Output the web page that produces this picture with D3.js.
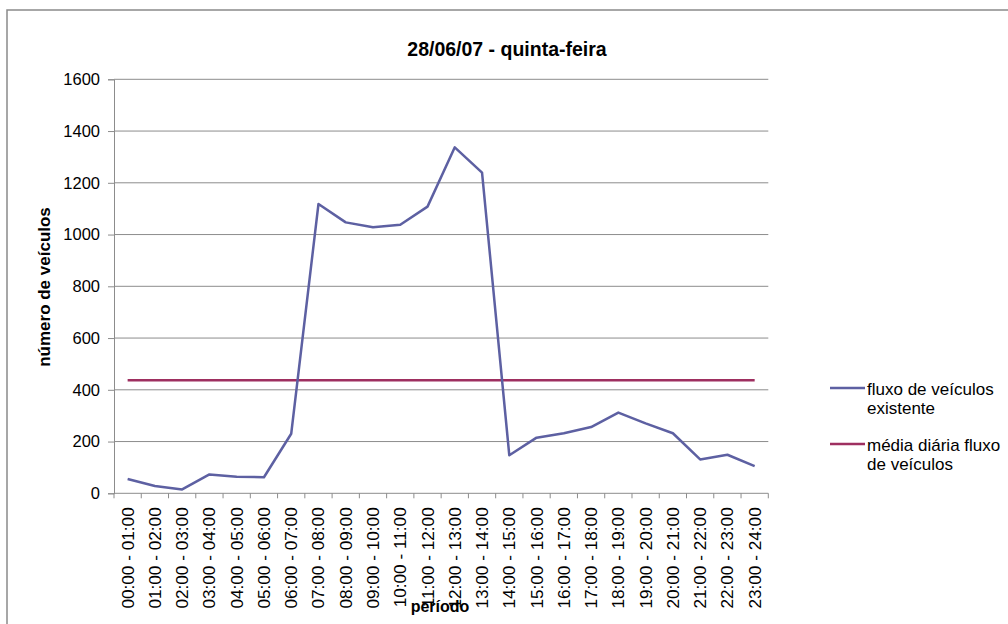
<!DOCTYPE html>
<html>
<head>
<meta charset="utf-8">
<script src="https://cdn.jsdelivr.net/npm/d3@7"></script>
<style>
  html, body { margin: 0; padding: 0; background: #fff; }
  svg { display: block; font-family: Arial, "Liberation Sans", sans-serif; }
</style>
</head>
<body>
<svg id="chart" width="1008" height="624"></svg>
<script>
// Hourly periods of the day
const periods = [
  "00:00 - 01:00", "01:00 - 02:00", "02:00 - 03:00", "03:00 - 04:00",
  "04:00 - 05:00", "05:00 - 06:00", "06:00 - 07:00", "07:00 - 08:00",
  "08:00 - 09:00", "09:00 - 10:00", "10:00 - 11:00", "11:00 - 12:00",
  "12:00 - 13:00", "13:00 - 14:00", "14:00 - 15:00", "15:00 - 16:00",
  "16:00 - 17:00", "17:00 - 18:00", "18:00 - 19:00", "19:00 - 20:00",
  "20:00 - 21:00", "21:00 - 22:00", "22:00 - 23:00", "23:00 - 24:00"
];

// Vehicle counts per hour
const fluxoExistente = [
  55, 28, 15, 73, 64, 62, 230, 1118, 1047, 1028, 1038, 1108,
  1337, 1239, 147, 215, 232, 256, 312, 270, 232, 131, 149, 105
];

// Daily mean of the flow, repeated for each hour
const mediaDiaria = [
  437, 437, 437, 437, 437, 437, 437, 437, 437, 437, 437, 437,
  437, 437, 437, 437, 437, 437, 437, 437, 437, 437, 437, 437
];

const yTicks = [0, 200, 400, 600, 800, 1000, 1200, 1400, 1600];

const titleText = "28/06/07 - quinta-feira";
const yTitle = "número de veículos";
const xTitle = "período";
const seriesNames = [
  ["fluxo de veículos", "existente"],
  ["média diária fluxo", "de veículos"]
];
const seriesColors = ["#5d60a2", "#9e2f60"];

const svg = d3.select("#chart");

// outer chart frame
svg.append("rect")
  .attr("x", 7).attr("y", 10)
  .attr("width", 1020).attr("height", 640)
  .attr("fill", "#fff")
  .attr("stroke", "#8a8a8a").attr("stroke-width", 1.5);

const plot = { left: 114, right: 768.3, top: 79.3, bottom: 493.3 };

const x = d3.scaleBand()
  .domain(periods)
  .range([plot.left, plot.right])
  .paddingInner(0).paddingOuter(0);

const y = d3.scaleLinear()
  .domain([0, 1600])
  .range([plot.bottom, plot.top]);

// horizontal gridlines
svg.append("g")
  .selectAll("line")
  .data(yTicks.filter(d => d > 0))
  .join("line")
  .attr("x1", plot.left).attr("x2", plot.right)
  .attr("y1", d => y(d)).attr("y2", d => y(d))
  .attr("stroke", "#8c8c8c").attr("stroke-width", 1);

// y axis
const yAxis = svg.append("g")
  .attr("transform", `translate(${plot.left},0)`)
  .call(d3.axisLeft(y).tickValues(yTicks).tickSize(6).tickPadding(8).tickFormat(d3.format("d")));
yAxis.select(".domain").attr("stroke", "#8c8c8c");
yAxis.selectAll(".tick line").attr("stroke", "#8c8c8c");
yAxis.selectAll(".tick text")
  .attr("font-size", 16.5)
  .attr("font-family", "Arial, 'Liberation Sans', sans-serif")
  .attr("fill", "#000");

// x axis, ticks on category boundaries
const xAxisG = svg.append("g")
  .attr("transform", `translate(0,${plot.bottom})`);
xAxisG.append("line")
  .attr("x1", plot.left).attr("x2", plot.right)
  .attr("y1", 0).attr("y2", 0)
  .attr("stroke", "#8c8c8c");
const boundaries = periods.map(p => x(p)).concat([plot.right]);
xAxisG.selectAll("line.tk")
  .data(boundaries)
  .join("line")
  .attr("class", "tk")
  .attr("x1", d => d).attr("x2", d => d)
  .attr("y1", 0).attr("y2", 5)
  .attr("stroke", "#8c8c8c");
xAxisG.selectAll("text.lbl")
  .data(periods)
  .join("text")
  .attr("class", "lbl")
  .attr("transform", d => `translate(${x(d) + x.bandwidth() / 2 + 6},14) rotate(-90)`)
  .attr("text-anchor", "end")
  .attr("font-size", 17.2)
  .attr("fill", "#000")
  .text(d => d);

// series lines
const line = d3.line()
  .x((d, i) => x(periods[i]) + x.bandwidth() / 2)
  .y(d => y(d));

svg.append("path")
  .datum(mediaDiaria)
  .attr("d", line)
  .attr("fill", "none")
  .attr("stroke", seriesColors[1])
  .attr("stroke-width", 2.5);

svg.append("path")
  .datum(fluxoExistente)
  .attr("d", line)
  .attr("fill", "none")
  .attr("stroke", seriesColors[0])
  .attr("stroke-width", 2.5)
  .attr("stroke-linejoin", "round");

// title
svg.append("text")
  .attr("x", 507).attr("y", 56)
  .attr("text-anchor", "middle")
  .attr("font-size", 19.5)
  .attr("font-weight", "bold")
  .attr("fill", "#000")
  .text(titleText);

// y axis title
svg.append("text")
  .attr("transform", "translate(50,287) rotate(-90)")
  .attr("text-anchor", "middle")
  .attr("font-size", 17)
  .attr("font-weight", "bold")
  .attr("fill", "#000")
  .text(yTitle);

// x axis title
svg.append("text")
  .attr("x", 440).attr("y", 612)
  .attr("text-anchor", "middle")
  .attr("font-size", 16)
  .attr("font-weight", "bold")
  .attr("fill", "#000")
  .text(xTitle);

// legend
const legend = svg.append("g").attr("transform", "translate(830,388)");
seriesNames.forEach((lines, i) => {
  const g = legend.append("g").attr("transform", `translate(0,${i * 56})`);
  g.append("line")
    .attr("x1", 0).attr("x2", 35)
    .attr("y1", 0).attr("y2", 0)
    .attr("stroke", seriesColors[i]).attr("stroke-width", 2.5);
  lines.forEach((t, j) => {
    g.append("text")
      .attr("x", 37).attr("y", 7 + j * 18.5)
      .attr("font-size", 17)
      .attr("fill", "#000")
      .text(t);
  });
});
</script>
</body>
</html>
